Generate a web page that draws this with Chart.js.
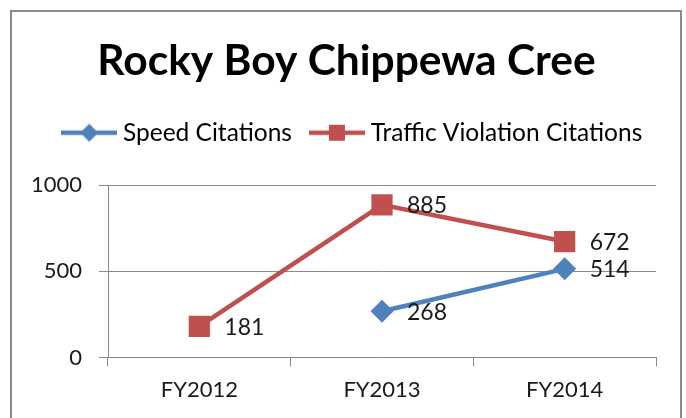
<!DOCTYPE html>
<html>
<head>
<meta charset="utf-8">
<script src="https://cdn.jsdelivr.net/npm/chart.js@4/dist/chart.umd.min.js"></script>
<style>
    html, body { margin: 0; padding: 0; background: #fff; }
    #frame {
        position: absolute; left: 10px; top: 10px;
        width: 668px; height: 430px;
        border: 2px solid #8a8a8a;
    }
    #citeChart { position: absolute; left: 0; top: 0; }
</style>
</head>
<body>
<div id="frame"></div>
<canvas id="citeChart" width="686" height="418"></canvas>
<script>
const years = ["FY2012", "FY2013", "FY2014"];
const speedCitations = [null, 268, 514];
const trafficCitations = [181, 885, 672];
const yTicks = [0, 500, 1000];

const BLUE = "#4F81BD";
const RED = "#C0504D";

// legend swatch: a short line with the marker in the middle
function legendSwatch(color, shape) {
    const c = document.createElement("canvas");
    c.width = 56;
    c.height = 22;
    const g = c.getContext("2d");
    g.strokeStyle = color;
    g.lineWidth = 4.5;
    g.beginPath();
    g.moveTo(0, 11);
    g.lineTo(56, 11);
    g.stroke();
    g.fillStyle = color;
    g.beginPath();
    if (shape === "diamond") {
        g.moveTo(28, 2);
        g.lineTo(37, 11);
        g.lineTo(28, 20);
        g.lineTo(19, 11);
    } else {
        g.rect(20, 3, 16, 16);
    }
    g.closePath();
    g.fill();
    return c;
}

// numbers printed to the right of every point
const valueLabels = {
    id: "valueLabels",
    afterDatasetsDraw(chart) {
        const ctx = chart.ctx;
        ctx.save();
        ctx.font = "23px Lato";
        ctx.fillStyle = "#1a1a1a";
        ctx.textAlign = "left";
        ctx.textBaseline = "middle";
        chart.data.datasets.forEach((ds, i) => {
            const meta = chart.getDatasetMeta(i);
            meta.data.forEach((pt, j) => {
                const v = ds.data[j];
                if (v === null || v === undefined) return;
                ctx.fillText(String(v), pt.x + 25, pt.y + 1);
            });
        });
        ctx.restore();
    }
};

// nudge title and legend to the right, like the original
const boxShift = {
    id: "boxShift",
    afterLayout(chart) {
        if (chart.legend) {
            chart.legend.left += 16.5;
            chart.legend.right += 16.5;
        }
        if (chart.titleBlock) {
            chart.titleBlock.left += 8;
            chart.titleBlock.right += 8;
        }
    }
};

const ctx = document.getElementById("citeChart").getContext("2d");
new Chart(ctx, {
    type: "line",
    data: {
        labels: years,
        datasets: [{
            label: "Speed Citations",
            data: speedCitations,
            borderColor: BLUE,
            backgroundColor: BLUE,
            borderWidth: 4.5,
            tension: 0,
            pointStyle: "rectRot",
            pointRadius: 11.5,
            pointBorderWidth: 0,
            legendImg: legendSwatch(BLUE, "diamond")
        }, {
            label: "Traffic Violation Citations",
            data: trafficCitations,
            borderColor: RED,
            backgroundColor: RED,
            borderWidth: 4.5,
            tension: 0,
            pointStyle: "rect",
            pointRadius: 15,
            pointBorderWidth: 0,
            legendImg: legendSwatch(RED, "square")
        }]
    },
    options: {
        responsive: false,
        animation: false,
        layout: { padding: { top: 14, left: 21, right: 30, bottom: 11 } },
        scales: {
            x: {
                offset: true,
                afterFit: (scale) => { scale.height = 49.5; },
                grid: {
                    offset: true,
                    drawOnChartArea: false,
                    drawTicks: true,
                    tickLength: 9,
                    color: "#8a8a8a"
                },
                border: { color: "#8a8a8a" },
                ticks: {
                    padding: 10.5,
                    color: "#1a1a1a",
                    font: { family: "Lato", size: 22 }
                }
            },
            y: {
                min: 0,
                max: 1000,
                afterBuildTicks: (scale) => {
                    scale.ticks = yTicks.map((v) => ({ value: v }));
                },
                afterFit: (scale) => { scale.width = 87; },
                grid: {
                    color: "#8a8a8a",
                    tickLength: 9
                },
                border: { color: "#8a8a8a" },
                ticks: {
                    padding: 17,
                    color: "#1a1a1a",
                    font: { family: "Lato", size: 22 },
                    callback: (v) => String(v)
                }
            }
        },
        plugins: {
            title: {
                display: true,
                text: "Rocky Boy Chippewa Cree",
                color: "#000",
                font: { family: "Lato", size: 42.5, weight: "bold" },
                padding: { top: 22, bottom: 10 }
            },
            legend: {
                display: true,
                labels: {
                    usePointStyle: true,
                    pointStyleWidth: 43,
                    padding: 23.5,
                    color: "#1a1a1a",
                    font: { family: "Lato", size: 24.5 },
                    generateLabels: (chart) => chart.data.datasets.map((ds, i) => ({
                        text: ds.label,
                        pointStyle: ds.legendImg,
                        datasetIndex: i,
                        hidden: false,
                        lineWidth: 0
                    }))
                }
            },
            // empty subtitle used as a gap between the legend and the plot
            subtitle: {
                display: true,
                text: "",
                weight: 500,
                font: { size: 10, lineHeight: 1 },
                padding: { top: 0, bottom: 20 }
            },
            tooltip: { enabled: false }
        }
    },
    plugins: [valueLabels, boxShift]
});
</script>
</body>
</html>
